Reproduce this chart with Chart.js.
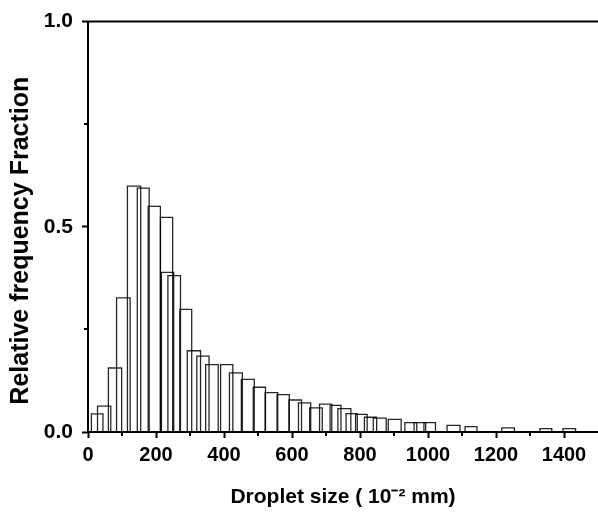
<!DOCTYPE html>
<html><head><meta charset="utf-8">
<script src="https://cdn.jsdelivr.net/npm/chart.js@4"></script>
<style>html,body{margin:0;padding:0;background:#fff}</style>
</head><body>
<canvas id="c" width="598" height="513" style="width:598px;height:513px;display:block"></canvas>
<script>
// Histogram bins (droplet size, 10^-2 mm): start, end, relative frequency
const binStart = [10, 28, 60, 84, 116, 145, 177, 213, 216, 235, 270, 292, 320, 346, 390, 416, 451, 486, 521, 556, 591, 619, 652, 681, 712, 735, 759, 787, 813, 839, 883, 932, 959, 988, 1056, 1109, 1217, 1329, 1397];
const binEnd   = [44, 67, 99, 124, 155, 180, 213, 249, 252, 272, 305, 331, 356, 383, 426, 454, 489, 522, 558, 592, 628, 655, 689, 717, 744, 773, 792, 821, 849, 877, 921, 967, 993, 1022, 1094, 1144, 1254, 1364, 1434];
const freq     = [0.044, 0.063, 0.156, 0.327, 0.599, 0.594, 0.550, 0.523, 0.389, 0.381, 0.299, 0.198, 0.185, 0.164, 0.164, 0.144, 0.128, 0.109, 0.096, 0.091, 0.078, 0.071, 0.059, 0.068, 0.065, 0.057, 0.045, 0.043, 0.036, 0.034, 0.031, 0.023, 0.023, 0.023, 0.016, 0.013, 0.010, 0.008, 0.008];

const xMajorTicks = [0, 200, 400, 600, 800, 1000, 1200, 1400];
const xMinorTicks = [100, 300, 500, 700, 900, 1100, 1300];
const yMajorTicks = [0, 0.5, 1.0];
const yMinorTicks = [0.25, 0.75];
const xTitle = 'Droplet size ( 10\u207B\u00B2 mm)';
const yTitle = 'Relative frequency Fraction    ';

const datasets = binStart.map((s, i) => ({
  data: [{x: s, y: 0}, {x: s, y: freq[i]}, {x: binEnd[i], y: freq[i]}, {x: binEnd[i], y: 0}],
  showLine: true, pointRadius: 0, borderColor: 'rgba(0,0,0,0.85)', borderWidth: 1.3,
  fill: false, tension: 0
}));

const FONT = 'Liberation Sans, Arial, sans-serif';

const extras = {
  id: 'extras',
  afterDraw(chart) {
    const ctx = chart.ctx, ca = chart.chartArea;
    const xs = chart.scales.x, ys = chart.scales.y;
    ctx.save();
    ctx.strokeStyle = '#000';
    ctx.lineWidth = 2;
    ctx.beginPath();
    ctx.moveTo(ca.left - 1, ca.top);
    ctx.lineTo(ca.right, ca.top);
    ctx.stroke();
    xMinorTicks.forEach(v => {
      const px = Math.round(xs.getPixelForValue(v));
      ctx.beginPath(); ctx.moveTo(px, ca.bottom); ctx.lineTo(px, ca.bottom + 4); ctx.stroke();
    });
    yMinorTicks.forEach(v => {
      const py = Math.round(ys.getPixelForValue(v));
      ctx.beginPath(); ctx.moveTo(ca.left, py); ctx.lineTo(ca.left - 4, py); ctx.stroke();
    });
    ctx.restore();
  }
};

new Chart(document.getElementById('c'), {
  type: 'scatter',
  data: { datasets },
  options: {
    responsive: false, animation: false, devicePixelRatio: 1,
    layout: { padding: { top: 19, right: 0, left: 0, bottom: 0 } },
    plugins: { legend: { display: false }, tooltip: { enabled: false } },
    scales: {
      x: {
        type: 'linear', min: 0, max: 1500, position: 'bottom',
        afterFit(s) { s.height = 81; },
        afterBuildTicks(s) { s.ticks = xMajorTicks.map(v => ({ value: v })); },
        ticks: { font: { family: FONT, weight: 'bold', size: 20 }, color: '#000', padding: 5, maxRotation: 0, autoSkip: false,
                 callback: v => String(v) },
        grid: { display: true, drawOnChartArea: false, drawTicks: true, tickLength: 6, tickColor: '#000', tickWidth: 2 },
        border: { display: true, color: '#000', width: 2 },
        title: { display: true, text: xTitle, color: '#000', font: { family: FONT, weight: 'bold', size: 21 }, padding: { top: 0, bottom: 3 } }
      },
      y: {
        type: 'linear', min: 0, max: 1,
        afterFit(s) { s.width = 88; },
        afterBuildTicks(s) { s.ticks = yMajorTicks.map(v => ({ value: v })); },
        ticks: { font: { family: FONT, weight: 'bold', size: 21 }, color: '#000', padding: 9,
                 callback: v => Number(v).toFixed(1) },
        grid: { display: true, drawOnChartArea: false, drawTicks: true, tickLength: 6, tickColor: '#000', tickWidth: 2 },
        border: { display: true, color: '#000', width: 2 },
        title: { display: true, text: yTitle, color: '#000', font: { family: FONT, weight: 'bold', size: 25 }, padding: { top: 6, bottom: 0 } }
      }
    }
  },
  plugins: [extras]
});
</script>
</body></html>
